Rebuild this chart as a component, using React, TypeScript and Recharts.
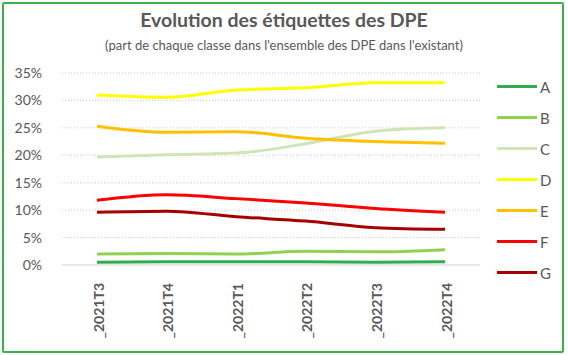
import { CartesianGrid, Line, LineChart, XAxis, YAxis } from "recharts";

const periods = ["_2021T3", "_2021T4", "_2022T1", "_2022T2", "_2022T3", "_2022T4"];
const classA = [0.5, 0.6, 0.6, 0.6, 0.5, 0.6];
const classB = [2.0, 2.1, 2.0, 2.5, 2.4, 2.8];
const classC = [19.7, 20.1, 20.4, 22.1, 24.4, 25.0];
const classD = [31.0, 30.6, 31.9, 32.3, 33.2, 33.2];
const classE = [25.3, 24.2, 24.3, 23.1, 22.5, 22.2];
const classF = [11.8, 12.8, 12.1, 11.3, 10.3, 9.6];
const classG = [9.6, 9.8, 8.8, 8.0, 6.8, 6.5];
const yTicks = [0, 5, 10, 15, 20, 25, 30, 35];

const series = [
  { key: "A", values: classA, color: "#2fad4e" },
  { key: "B", values: classB, color: "#92d050" },
  { key: "C", values: classC, color: "#cfe5b8" },
  { key: "D", values: classD, color: "#ffff00" },
  { key: "E", values: classE, color: "#ffc000" },
  { key: "F", values: classF, color: "#ff0000" },
  { key: "G", values: classG, color: "#a50000" }
];

const data = periods.map((p, i) => {
  const row: any = { period: p };
  series.forEach((s) => (row[s.key] = s.values[i]));
  return row;
});

const FONT = "Lato, 'Open Sans', sans-serif";
const GREY = "#595959";

function PeriodTick({ x, y, payload }: any) {
  return (
    <text
      x={x + 1}
      y={y + 10}
      transform={`rotate(-90, ${x + 1}, ${y + 10})`}
      textAnchor="end"
      dominantBaseline="central"
      fill={GREY}
      fontSize={14}
      fontWeight={700}
      fontFamily={FONT}
    >
      {payload.value}
    </text>
  );
}

function SideLegend() {
  return (
    <div
      style={{
        position: "absolute",
        left: 497,
        top: 71,
        fontFamily: FONT,
        color: GREY,
        fontSize: 15
      }}
    >
      {series.map((s) => (
        <div key={s.key} style={{ display: "flex", alignItems: "center", height: 31 }}>
          <div style={{ width: 40, height: 3, background: s.color, marginRight: 3 }} />
          <span>{s.key}</span>
        </div>
      ))}
    </div>
  );
}

export default function App() {
  return (
    <div
      style={{
        position: "fixed",
        left: 0,
        top: 0,
        width: 568,
        height: 355,
        background: "#fff",
        fontFamily: FONT
      }}
    >
      <div
        style={{
          position: "absolute",
          left: 2,
          top: 2,
          width: 558,
          height: 347,
          border: "2px solid #3cb04a",
          borderRadius: 2
        }}
      />
      <div
        style={{
          position: "absolute",
          left: 0,
          width: 568,
          top: 8,
          textAlign: "center",
          fontWeight: 700,
          fontSize: 19.5,
          color: GREY
        }}
      >
        Evolution des étiquettes des DPE
      </div>
      <div
        style={{
          position: "absolute",
          left: 0,
          width: 568,
          top: 37,
          textAlign: "center",
          fontSize: 13,
          color: GREY
        }}
      >
        (part de chaque classe dans l'ensemble des DPE dans l'existant)
      </div>
      <div style={{ position: "absolute", left: 0, top: 0 }}>
        <LineChart
          width={568}
          height={355}
          data={data}
          margin={{ top: 73, right: 88, bottom: 10, left: 0 }}
        >
          <CartesianGrid
            vertical={false}
            stroke="#c8c8c8"
            strokeDasharray="1 2"
          />
          <XAxis
            dataKey="period"
            height={80}
            padding={{ left: 35, right: 35 }}
            tickLine={false}
            axisLine={{ stroke: "#d9d9d9" }}
            tick={<PeriodTick />}
            interval={0}
          />
          <YAxis
            width={62}
            domain={[0, 35]}
            ticks={yTicks}
            tickFormatter={(v) => `${v}%`}
            tickLine={false}
            axisLine={false}
            tickMargin={14}
            tick={{ fill: GREY, fontSize: 14, fontFamily: FONT }}
          />
          {series.map((s) => (
            <Line
              key={s.key}
              dataKey={s.key}
              stroke={s.color}
              strokeWidth={3}
              type="monotone"
              dot={false}
              isAnimationActive={false}
            />
          ))}
        </LineChart>
      </div>
      <SideLegend />
    </div>
  );
}
